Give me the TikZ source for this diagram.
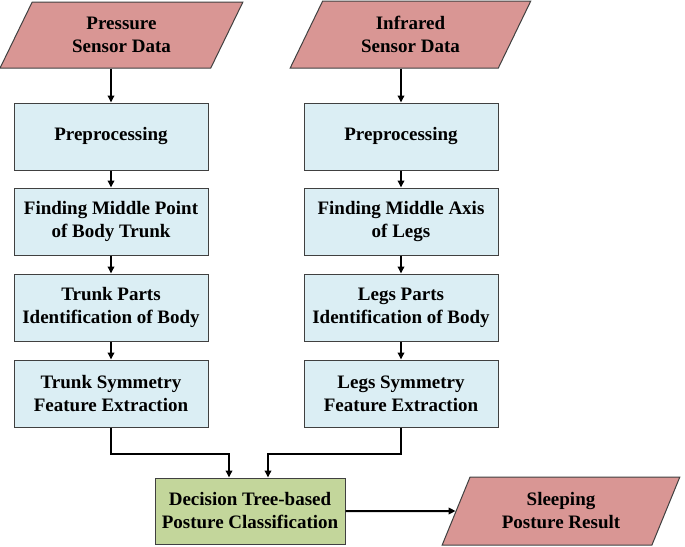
\documentclass[tikz,border=0pt]{standalone}
\usepackage{fontspec}
\setmainfont{Liberation Serif}
\usetikzlibrary{shapes.geometric,arrows.meta,calc}
\definecolor{salmon}{HTML}{D99694}
\definecolor{lblue}{HTML}{DBEEF4}
\definecolor{lgreen}{HTML}{C3D69B}
\definecolor{edge}{HTML}{404040}
\tikzset{
  txt/.style={font=\fontsize{19}{23}\selectfont\bfseries, align=center, text=black},
  para/.style={txt, draw=edge, line width=1pt, fill=salmon, trapezium,
    trapezium left angle=63.5, trapezium right angle=116.5, trapezium stretches=true,
    inner sep=0pt},
  stepbox/.style={txt, draw=edge, line width=1pt, fill=lblue, rectangle,
    minimum width=194pt, minimum height=67pt, inner sep=0pt},
  decbox/.style={txt, draw=edge, line width=1pt, fill=lgreen, rectangle,
    minimum width=190pt, minimum height=66pt, inner sep=0pt},
  conn/.style={line width=2pt, -{Triangle[length=7pt,width=6.5pt]}},
}
\begin{document}
\begin{tikzpicture}[x=1pt,y=-1pt]
\useasboundingbox (0,0) rectangle (685,546);
\node[para, minimum width=243pt, minimum height=66pt] (in1) at (121.5,35) {Pressure\\Sensor Data};
\node[para, minimum width=241pt, minimum height=67pt] (in2) at (410.5,34.5) {Infrared\\Sensor Data};

\node[stepbox] (a1) at (111,136.5) {Preprocessing};
\node[stepbox] (a2) at (111,221.5) {Finding Middle Point\\of Body Trunk};
\node[stepbox] (a3) at (111,307.5) {Trunk Parts\\Identification of Body};
\node[stepbox] (a4) at (111,393.5) {Trunk Symmetry\\Feature Extraction};

\node[stepbox] (b1) at (401,136.5) {Preprocessing};
\node[stepbox] (b2) at (401,221.5) {Finding Middle Axis\\of Legs};
\node[stepbox] (b3) at (401,307.5) {Legs Parts\\Identification of Body};
\node[stepbox] (b4) at (401,393.5) {Legs Symmetry\\Feature Extraction};

\node[decbox] (dec) at (250,511) {Decision Tree-based\\Posture Classification};
\node[para, minimum width=238pt, minimum height=68pt] (out) at (561,511) {Sleeping\\Posture Result};

\draw[conn] (in1.south -| a1.north) -- (a1.north);
\draw[conn] (a1) -- (a2);
\draw[conn] (a2) -- (a3);
\draw[conn] (a3) -- (a4);
\draw[conn] (in2.south -| b1.north) -- (b1.north);
\draw[conn] (b1) -- (b2);
\draw[conn] (b2) -- (b3);
\draw[conn] (b3) -- (b4);

\coordinate (dl) at ($(dec.north)+(-21,0)$);
\coordinate (dr) at ($(dec.north)+(18,0)$);
\draw[conn] (a4.south) -- ($(a4.south)+(0,26)$) -| (dl);
\draw[conn] (b4.south) -- ($(b4.south)+(0,26)$) -| (dr);
\draw[conn] (dec.east) -- (out.west);
\end{tikzpicture}
\end{document}
